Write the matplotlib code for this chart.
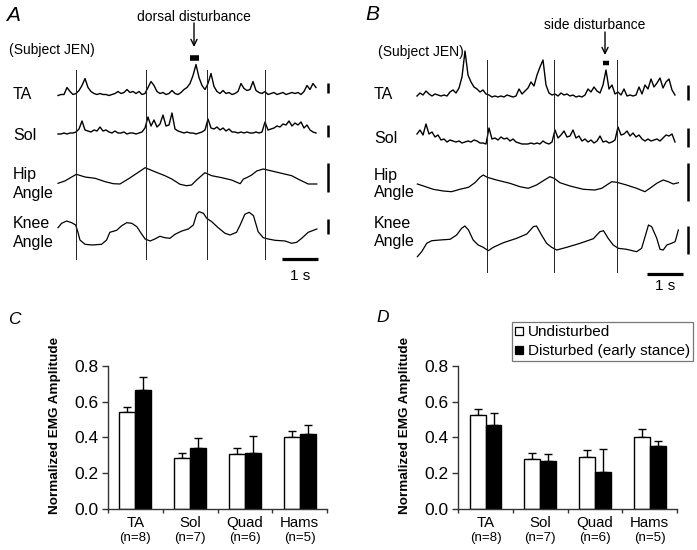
import matplotlib
matplotlib.use('Agg')
import matplotlib.pyplot as plt
import numpy as np
from matplotlib.lines import Line2D

plt.rcParams['font.family'] = ['Liberation Sans', 'DejaVu Sans']

W, H = 697, 550
fig = plt.figure(figsize=(W / 100, H / 100), dpi=100)

# ---------------- data ----------------
muscles = ['TA', 'Sol', 'Quad', 'Hams']
n_subj = [8, 7, 6, 5]
C_undist = [0.543, 0.283, 0.305, 0.403]
C_undist_err = [0.028, 0.031, 0.034, 0.032]
C_dist = [0.664, 0.339, 0.311, 0.417]
C_dist_err = [0.075, 0.059, 0.096, 0.053]
D_undist = [0.525, 0.279, 0.288, 0.404]
D_undist_err = [0.031, 0.032, 0.041, 0.043]
D_dist = [0.469, 0.270, 0.208, 0.353]
D_dist_err = [0.065, 0.035, 0.127, 0.028]
legend_labels = ['Undisturbed', 'Disturbed (early stance)']

# EMG envelopes (amplitude, arbitrary units), sampled every 1/12 s
A_TA = [0, 1, 1, 8, 4, 1, 2, 5, 10, 17, 8, 4, 2, 1, 2, 1, 1, 0, 1, 2, 4, 2, 3, 6, 3, 4, 2, 4, 1, 2,
        8, 14, 10, 4, 2, 3, 1, 2, 5, 2, 1, 3, 6, 8, 12, 20, 31, 18, 10, 6, 12, 22, 9, 4, 2, 5, 2, 3, 1, 2,
        4, 12, 7, 5, 6, 14, 5, 3, 2, 4, 1, 2, 3, 1, 2, 3, 1, 2, 3, 2, 3, 1, 4, 10, 6, 12, 8]
A_Sol = [0, 0, 1, 0, 1, 1, 2, 5, 13, 4, 3, 2, 4, 3, 7, 3, 4, 2, 1, 3, 1, 1, 2, 0, 1, 1, 0, 1, 2, 6,
         17, 8, 14, 7, 10, 19, 8, 9, 21, 5, 3, 2, 1, 2, 1, 1, 0, 1, 2, 4, 15, 6, 5, 7, 4, 6, 3, 5, 2, 2,
         1, 2, 1, 2, 1, 1, 2, 1, 2, 12, 4, 5, 6, 8, 7, 10, 9, 13, 8, 11, 9, 12, 6, 9, 4, 2, 1]
B_TA = [1, 4, 2, 6, 3, 1, 3, 2, 1, 2, 1, 5, 7, 4, 9, 20, 46, 22, 15, 10, 8, 5, 7, 3, 2, 0, 1, 0, 1, 0,
        2, 1, 0, 1, 8, 3, 6, 9, 15, 11, 22, 30, 37, 12, 4, 2, 3, 1, 4, 2, 3, 1, 2, 0, 1, 0, 2, 8, 5, 10,
        6, 4, 12, 27, 8, 12, 3, 5, 2, 8, 1, 2, 1, 2, 10, 3, 12, 8, 18, 10, 14, 19, 9, 15, 18, 7, 2]
B_Sol = [10, 14, 9, 20, 10, 12, 7, 9, 4, 5, 2, 4, 3, 2, 3, 1, 2, 3, 2, 4, 3, 1, 1, 0, 16, 5, 6, 4, 7, 5,
         6, 3, 5, 2, 1, 0, 0, 0, 1, 0, 1, 0, 3, 1, 0, 2, 14, 6, 9, 13, 7, 8, 14, 6, 8, 3, 5, 2, 4, 1,
         3, 8, 2, 3, 1, 2, 4, 17, 9, 10, 13, 8, 11, 7, 9, 5, 3, 5, 3, 4, 5, 3, 6, 9, 8, 10, 2]

# joint angles (arbitrary units) at time points (s)
A_hip_t = [0.0, 0.19, 0.51, 0.75, 1.03, 1.31, 1.54, 1.72, 1.95, 2.19, 2.42, 2.69, 2.97, 3.16, 3.39, 3.57, 3.71,
           3.85, 4.08, 4.27, 4.55, 4.82, 5.06, 5.15, 5.24, 5.38, 5.52, 5.70, 5.94, 6.21, 6.49, 6.72, 6.95, 7.19]
A_hip = [6.7, 9.0, 15.7, 13.0, 11.7, 8.3, 6.3, 6.0, 11.0, 16.7, 22.3, 18.3, 14.3, 11.0, 5.7, 4.3, 5.0,
         10.0, 17.3, 14.3, 12.3, 10.0, 6.3, 11.0, 12.3, 15.0, 19.0, 21.0, 19.0, 16.7, 14.3, 10.0, 6.0, 6.0]
A_knee_t = [0.0, 0.10, 0.24, 0.38, 0.49, 0.55, 0.61, 0.75, 0.94, 1.21, 1.35, 1.44, 1.63, 1.77, 1.91, 2.05, 2.19,
            2.31, 2.42, 2.56, 2.69, 2.83, 2.97, 3.11, 3.25, 3.44, 3.62, 3.76, 3.85, 3.92, 4.04, 4.13, 4.27, 4.45,
            4.64, 4.78, 4.96, 5.06, 5.19, 5.31, 5.43, 5.56, 5.70, 5.84, 6.03, 6.31, 6.49, 6.63, 6.77, 6.95, 7.19]
A_knee = [27.3, 31.7, 34.0, 32.3, 30.0, 23.3, 15.0, 10.7, 10.0, 10.7, 15.0, 22.7, 24.7, 29.3, 32.3, 31.7, 28.3,
          21.7, 16.0, 14.0, 16.0, 18.7, 17.3, 16.7, 20.7, 24.0, 26.0, 30.0, 40.7, 43.3, 41.7, 36.7, 33.3, 27.3,
          21.7, 20.0, 22.7, 30.0, 40.7, 42.7, 39.3, 23.3, 17.3, 16.0, 14.7, 14.0, 11.7, 12.7, 16.7, 22.7, 26.0]
B_hip_t = [0.01, 0.18, 0.45, 0.73, 0.96, 1.19, 1.43, 1.61, 1.75, 1.84, 1.95, 2.21, 2.58, 2.86, 3.09, 3.32, 3.51,
           3.69, 3.81, 3.97, 4.25, 4.62, 4.94, 5.13, 5.27, 5.41, 5.55, 5.82, 6.10, 6.33, 6.47, 6.66, 6.84, 6.98,
           7.12, 7.26]
B_hip = [11.0, 9.0, 5.7, 4.0, 3.3, 5.7, 7.7, 12.3, 17.7, 20.0, 17.7, 15.0, 11.7, 8.3, 6.7, 10.0, 14.3,
         18.3, 16.7, 12.3, 9.0, 5.7, 5.0, 6.7, 10.0, 13.3, 12.7, 10.0, 6.7, 3.3, 6.7, 11.7, 15.0, 13.3,
         11.0, 12.3]
B_knee_t = [0.01, 0.13, 0.27, 0.41, 0.64, 0.92, 1.10, 1.24, 1.33, 1.43, 1.56, 1.70, 1.84, 1.98, 2.12, 2.40, 2.77,
            3.05, 3.23, 3.32, 3.46, 3.60, 3.74, 3.88, 4.16, 4.53, 4.90, 5.08, 5.18, 5.31, 5.45, 5.59, 5.82, 6.10,
            6.24, 6.33, 6.43, 6.52, 6.66, 6.75, 6.84, 6.94, 7.07, 7.17, 7.26]
B_knee = [5.3, 10.3, 18.7, 21.3, 22.0, 22.7, 27.0, 33.7, 36.0, 32.0, 22.0, 17.0, 14.7, 11.3, 14.7, 19.3, 23.7,
          28.0, 35.3, 36.0, 27.0, 18.7, 14.7, 12.0, 14.7, 18.7, 23.3, 30.3, 31.3, 23.7, 17.0, 13.7, 12.7, 10.3,
          13.7, 24.7, 37.0, 35.3, 23.7, 12.7, 12.0, 17.0, 18.7, 20.3, 32.0]

A_steps = [0.51, 2.44, 4.13, 5.76]
B_steps = [1.95, 3.81, 5.55]

EMG_DT = 1 / 12.0
PX_PER_S = 36.0


def box(x0, y0, x1, y1):
    return [x0 / W, 1 - y1 / H, (x1 - x0) / W, (y1 - y0) / H]


def trace_panel(rect, x0px, letter, letter_px, dist_text, dist_px, subj_px,
                emg_ta, emg_sol, hip_t, hip, knee_t, knee, steps,
                bases, step_y, sbar_x, sbars, tbar, dbar, labels_y):
    ax = fig.add_axes(box(*rect))
    t = lambda px: (px - x0px) / PX_PER_S
    ax.set_xlim(t(rect[0]), t(rect[2]))
    ax.set_ylim(rect[3], rect[1])
    ax.axis('off')
    te = np.arange(len(emg_ta)) * EMG_DT
    ax.plot(te, bases[0] - np.array(emg_ta), color='black', lw=1.0)
    te = np.arange(len(emg_sol)) * EMG_DT
    ax.plot(te, bases[1] - np.array(emg_sol), color='black', lw=1.0)
    ax.plot(hip_t, bases[2] - np.array(hip), color='black', lw=0.9)
    ax.plot(knee_t, bases[3] - np.array(knee), color='black', lw=0.9)
    for s in steps:
        ax.plot([s, s], step_y, color='#222222', lw=0.7)
    for (ya, yb) in sbars:
        ax.plot([t(sbar_x), t(sbar_x)], [ya, yb], color='black', lw=1.8, solid_capstyle='butt')
    ax.plot([t(tbar[0]), t(tbar[1])], [tbar[2], tbar[2]], color='black', lw=2.3, solid_capstyle='butt')
    ax.text(t((tbar[0] + tbar[1]) / 2), tbar[3], '1 s', ha='center', va='baseline', fontsize=11)
    ax.plot([t(dbar[0]), t(dbar[1])], [dbar[2], dbar[2]], color='black', lw=dbar[3], solid_capstyle='butt')
    ax.text(t(letter_px[0]), letter_px[1], letter, fontsize=15, style='italic', ha='center', va='center')
    ax.text(t(dist_px[0]), dist_px[1], dist_text, fontsize=10, ha='center', va='center')
    ax.annotate('', xy=(t(dist_px[2]), dist_px[4]), xytext=(t(dist_px[2]), dist_px[3]),
                arrowprops=dict(arrowstyle='->', lw=1.0, color='black', mutation_scale=11,
                                shrinkA=0, shrinkB=0))
    ax.text(t(subj_px[0]), subj_px[1], '(Subject JEN)', fontsize=10, ha='center', va='center')
    lx = labels_y[0]
    for txt, yb in zip(['TA', 'Sol', 'Hip', 'Angle', 'Knee', 'Angle'], labels_y[1:]):
        ax.text(t(lx), yb, txt, fontsize=11.5, ha='left', va='baseline')
    return ax


trace_panel((0, 0, 348, 300), 58, 'A', (12.5, 15.5), 'dorsal disturbance', (193.5, 17, 194, 23, 47),
            (52, 50), A_TA, A_Sol, A_hip_t, A_hip, A_knee_t, A_knee, A_steps,
            (95.5, 134, 190, 255), (70, 259), 328,
            [(83, 93), (125, 137), (163, 192), (219, 234)], (282, 318, 259, 280), (190, 199, 58, 4.0),
            (13, 99, 140, 179, 198, 228, 247))

trace_panel((348, 0, 697, 300), 417, 'B', (372, 15), 'side disturbance', (595, 25, 605, 32, 55),
            (421, 52), B_TA, B_Sol, B_hip_t, B_hip, B_knee_t, B_knee, B_steps,
            (97, 144, 195, 262), (60, 272), 688,
            [(85, 100), (128, 147), (163, 201), (226, 254)], (647, 683, 274, 290), (603, 609, 63, 3.2),
            (374, 99, 143, 180, 197, 228, 246))


def bar_panel(x_left, x_right, und, und_err, dis, dis_err):
    ax = fig.add_axes(box(x_left, 365.7, x_right, 509))
    x = np.arange(len(muscles))
    w = 0.29
    ax.bar(x - w / 2, und, w, color='white', edgecolor='black', linewidth=1.0, zorder=2)
    ax.bar(x + w / 2, dis, w, color='black', edgecolor='black', linewidth=1.0, zorder=2)
    ax.errorbar(x - w / 2, und, yerr=[np.zeros(len(x)), und_err], fmt='none', ecolor='black',
                elinewidth=1.0, capsize=2.6, capthick=1.0, zorder=1)
    ax.errorbar(x + w / 2, dis, yerr=[np.zeros(len(x)), dis_err], fmt='none', ecolor='black',
                elinewidth=1.0, capsize=2.6, capthick=1.0, zorder=1)
    ax.set_xlim(-0.5, len(x) - 0.5)
    ax.set_ylim(0, 0.8)
    ax.set_yticks([0, 0.2, 0.4, 0.6, 0.8])
    ax.set_yticklabels(['0.0', '0.2', '0.4', '0.6', '0.8'])
    ax.set_xticks(np.arange(len(x) + 1) - 0.5)
    ax.set_xticklabels([])
    for sp in ['top', 'right']:
        ax.spines[sp].set_visible(False)
    for sp in ['left', 'bottom']:
        ax.spines[sp].set_linewidth(1.0)
        ax.spines[sp].set_color('#333333')
    ax.tick_params(axis='x', direction='out', length=3, width=1.0, color='#333333')
    ax.tick_params(axis='y', direction='out', length=4, width=1.0, color='#333333',
                   labelsize=12.5, pad=3)
    for i, (m, n) in enumerate(zip(muscles, n_subj)):
        ax.annotate(m, xy=(i, 0), xycoords=('data', 'axes fraction'), xytext=(0, -12.7),
                    textcoords='offset points', ha='center', va='baseline', fontsize=10.8)
        ax.annotate('(n=%d)' % n, xy=(i, 0), xycoords=('data', 'axes fraction'), xytext=(0, -22.7),
                    textcoords='offset points', ha='center', va='baseline', fontsize=9.6)
    return ax


bar_panel(108, 327, C_undist, C_undist_err, C_dist, C_dist_err)
bar_panel(458.3, 677, D_undist, D_undist_err, D_dist, D_dist_err)

for xc in (55, 405):
    fig.text(xc / W, 1 - 425 / H, 'Normalized EMG Amplitude', rotation=90, fontweight='bold',
             fontsize=9.7, ha='center', va='center')
fig.text(14 / W, 1 - 319 / H, 'C', fontsize=12.5, style='italic', ha='center', va='center')
fig.text(382.5 / W, 1 - 317.5 / H, 'D', fontsize=12.5, style='italic', ha='center', va='center')

handles = [Line2D([], [], marker='s', linestyle='none', markerfacecolor='white', markeredgecolor='black',
                  markersize=5.5, markeredgewidth=0.9),
           Line2D([], [], marker='s', linestyle='none', markerfacecolor='black', markeredgecolor='black',
                  markersize=5.5, markeredgewidth=0.9)]
leg = fig.legend(handles, legend_labels, loc='upper right', bbox_to_anchor=(693 / W, 1 - 322 / H),
                 frameon=True, fancybox=False, edgecolor='#555555', fontsize=11, handlelength=0.5,
                 handletextpad=0.3, borderpad=0.22, labelspacing=0.3, borderaxespad=0)
leg.get_frame().set_linewidth(0.9)

fig.savefig('out.png', dpi=100)
